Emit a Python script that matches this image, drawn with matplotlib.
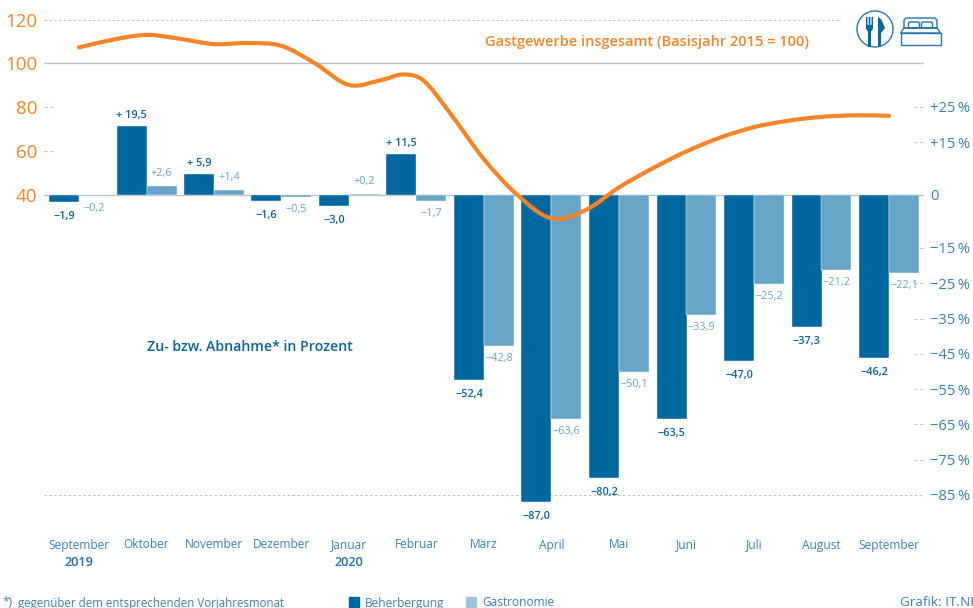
import matplotlib
matplotlib.use("Agg")
import matplotlib.pyplot as plt
from matplotlib.path import Path
from matplotlib.patches import PathPatch, Circle, Polygon
from matplotlib.transforms import Affine2D, blended_transform_factory
from matplotlib.lines import Line2D

plt.rcParams['font.family'] = ['Open Sans', 'DejaVu Sans']

months = ["September", "Oktober", "November", "Dezember", "Januar", "Februar", "März",
          "April", "Mai", "Juni", "Juli", "August", "September"]
years = {0: "2019", 4: "2020"}
beherbergung = [-1.9, 19.5, 5.9, -1.6, -3.0, 11.5, -52.4, -87.0, -80.2, -63.5, -47.0, -37.3, -46.2]
gastronomie = [-0.2, 2.6, 1.4, -0.5, 0.2, -1.7, -42.8, -63.6, -50.1, -33.9, -25.2, -21.2, -22.1]
line_pos = [0, 0.5, 1, 1.5, 2, 2.5, 3, 3.5, 4, 4.5, 4.8, 5.1, 5.5, 6, 6.5, 7, 7.5, 8, 8.5, 9, 9.5, 10, 10.5, 11, 11.5, 12]
index_total = [107.3, 110.8, 113.0, 111.2, 108.8, 109.3, 108.0, 100.0, 90.2, 92.6, 95.0, 92.3, 77.3, 56.4,
               40.0, 29.5, 33.2, 43.6, 52.3, 60.0, 66.3, 71.0, 73.9, 75.7, 76.4, 76.2]
pct_ticks = [25, 15, 0, -15, -25, -35, -45, -55, -65, -75, -85]
idx_ticks = [120, 100, 80, 60, 40]

DARK = "#00689F"
LIGHT = "#68A4C5"
LEG_LIGHT = "#9CC5DB"
ORANGE = "#F58428"
TXT = "#3A80B0"
GREY = "#B9BDBF"

W, H = 973, 608
fig = plt.figure(figsize=(W / 100, H / 100), dpi=100, facecolor="white")
L, R, T, B = 44, 924, 19.5, 495
ax = fig.add_axes([L / W, 1 - B / H, (R - L) / W, (B - T) / H])
ax.set_xlim((L - 79) / 67.5, (R - 79) / 67.5)
scale_pct = 300 / 85
ax.set_ylim(-85, (195 - T) / scale_pct)
ax.patch.set_visible(False)
for s in ax.spines.values():
    s.set_visible(False)
ax2 = ax.twinx()
ax2.set_ylim(40 - 300 / 2.2, 120)
ax2.patch.set_visible(False)
for s in ax2.spines.values():
    s.set_visible(False)

ax.set_xticks([])
ax.yaxis.tick_right()
ax.set_yticks(pct_ticks)


def pct_label(v):
    if v == 0:
        return "0"
    return ("+" if v > 0 else "\u2212") + f"{abs(v)}\u2009%"


ax.set_yticklabels([pct_label(v) for v in pct_ticks], color=TXT, fontsize=10.6)
ax.tick_params(axis="y", length=0, pad=4.5)
ax2.yaxis.tick_left()
ax2.set_yticks(idx_ticks)
ax2.set_yticklabels([str(v) for v in idx_ticks], color=ORANGE, fontsize=13.5, fontweight="medium")
ax2.tick_params(axis="y", length=0, pad=5)

# reference lines
tr = blended_transform_factory(ax.transAxes, ax.transData)
ax.plot([0, 1], [0, 0], transform=tr, color=GREY, lw=1, zorder=1)
ax2.plot([0, 1], [100, 100], transform=ax2.get_yaxis_transform(), color=GREY, lw=1, zorder=1)
ax2.plot([0, 798 / 880], [120, 120], transform=ax2.get_yaxis_transform(), color=GREY, lw=0.7,
         ls=(0, (2.5, 2.5)), clip_on=False)
ax.plot([0, 1], [-85, -85], transform=tr, color=GREY, lw=0.7, ls=(0, (2.5, 2.5)), clip_on=False, zorder=1)
for v in pct_ticks:
    if v not in (0, -85):
        ax.plot([1 - 10 / 880, 1], [v, v], transform=tr, color=GREY, lw=0.7, ls=(0, (3, 3)))
for v in (80, 60):
    ax2.plot([0, 11 / 880], [v, v], transform=ax2.get_yaxis_transform(), color=GREY, lw=0.7, ls=(0, (3, 3)))

# bars
w = 30 / 67.5
xs = list(range(len(months)))
ax.bar([x - w / 2 for x in xs], beherbergung, width=w, color=DARK, edgecolor="white", linewidth=0.3, zorder=2, clip_on=False)
ax.bar([x + w / 2 for x in xs], gastronomie, width=w, color=LIGHT, edgecolor="white", linewidth=0.3, zorder=2, clip_on=False)


def fmt(v, gap):
    s = f"{abs(v):.1f}".replace(".", ",")
    return ("+" + gap + s) if v > 0 else ("\u2212" + s)


for x, v in zip(xs, beherbergung):
    off = 8 if v > 0 else -10.5
    ax.annotate(fmt(v, " "), (x - w / 2, v), xytext=(0, off), textcoords="offset points",
                ha="center", va="center", fontsize=7.8, color="#0A6298", fontweight="semibold",
                annotation_clip=False, zorder=5)
for x, v in zip(xs, gastronomie):
    off = 9 if v > 0 else -9
    ax.annotate(fmt(v, ""), (x + w / 2, v), xytext=(0, off), textcoords="offset points",
                ha="center", va="center", fontsize=7.8, color=LIGHT,
                annotation_clip=False, zorder=5)

# smooth index line (cubic Hermite segments through the read values)
n = len(line_pos)
slopes = []
for i in range(n):
    a = max(i - 1, 0)
    b = min(i + 1, n - 1)
    slopes.append((index_total[b] - index_total[a]) / (line_pos[b] - line_pos[a]))
verts = [(line_pos[0], index_total[0])]
codes = [Path.MOVETO]
for i in range(n - 1):
    d = (line_pos[i + 1] - line_pos[i]) / 3
    verts += [(line_pos[i] + d, index_total[i] + d * slopes[i]),
              (line_pos[i + 1] - d, index_total[i + 1] - d * slopes[i + 1]),
              (line_pos[i + 1], index_total[i + 1])]
    codes += [Path.CURVE4] * 3
ax2.add_patch(PathPatch(Path(verts, codes), fill=False, edgecolor=ORANGE, lw=3, capstyle="round", zorder=6, clip_on=False))

# month labels
px = Affine2D().scale(1 / W, -1 / H).translate(0, 1) + fig.transFigure
xt = blended_transform_factory(ax.transData, px)
for x, m in zip(xs, months):
    ax.text(x, 545, m, transform=xt, ha="center", va="center", fontsize=8.6, color=TXT, clip_on=False)
for x, y in years.items():
    ax.text(x, 562, y, transform=xt, ha="center", va="center", fontsize=9.2, color="#1F6FA5",
            fontweight="semibold", clip_on=False)

fig.text(485, 42, "Gastgewerbe insgesamt (Basisjahr 2015 = 100)", transform=px, ha="left", va="center",
         color=ORANGE, fontsize=10.45, fontweight="semibold")
fig.text(147, 347, "Zu- bzw. Abnahme* in Prozent", transform=px, ha="left", va="center",
         color="#0A6298", fontsize=10.15, fontweight="semibold")
fig.text(2, 603, "*)", transform=px, ha="left", va="center", color=TXT, fontsize=8.6)
fig.text(18, 603, "gegenüber dem entsprechenden Vorjahresmonat", transform=px, ha="left", va="center",
         color=TXT, fontsize=8.3)
fig.text(900, 602, "Grafik: IT.NRW", transform=px, ha="left", va="center", color=TXT, fontsize=9.7)

# legend
handles = [Line2D([], [], ls="", marker="s", ms=7, color=DARK),
           Line2D([], [], ls="", marker="s", ms=7, color=LEG_LIGHT)]
leg = fig.legend(handles, ["Beherbergung", "Gastronomie"], ncol=2, frameon=False,
                 loc="center left", bbox_to_anchor=(344 / W, 1 - 603 / H), fontsize=8.6,
                 labelcolor=TXT, columnspacing=1.4, handletextpad=0.15, handlelength=1.6,
                 borderpad=0, borderaxespad=0)

# icons
ic = DARK
fig.add_artist(Circle((875, 29), 18, transform=px, fill=False, ec="#2376AA", lw=1))
fork = [(866, 17), (867.5, 17), (867.5, 25), (868.7, 25), (868.7, 17), (870.3, 17), (870.3, 25), (871.5, 25),
        (871.5, 17), (873, 17), (873, 29), (871, 31.5), (871, 47), (868, 47), (868, 31.5), (866, 29)]
knife = [(878, 17), (881, 19), (885, 28), (881, 33), (881, 46), (878, 47)]
fig.add_artist(Polygon(fork, closed=True, transform=px, fc=ic, ec="none"))
fig.add_artist(Polygon(knife, closed=True, transform=px, fc=ic, ec="none"))
bc = "#2376AA"
for verts_i in ([(900.5, 33), (940.5, 33), (940.5, 44.5), (900.5, 44.5)],
                [(900.5, 33), (904, 28), (937, 28), (940.5, 33)],
                [(904, 28), (904, 20), (906, 18), (935, 18), (937, 20), (937, 28)],
                [(908.5, 28), (908.5, 23), (910, 22), (918, 22), (919.5, 23), (919.5, 28)],
                [(921.5, 28), (921.5, 23), (923, 22), (931, 22), (932.5, 23), (932.5, 28)]):
    fig.add_artist(Polygon(verts_i, closed=True, transform=px, fill=False, ec=bc, lw=1))

fig.savefig("out.png", dpi=100)
